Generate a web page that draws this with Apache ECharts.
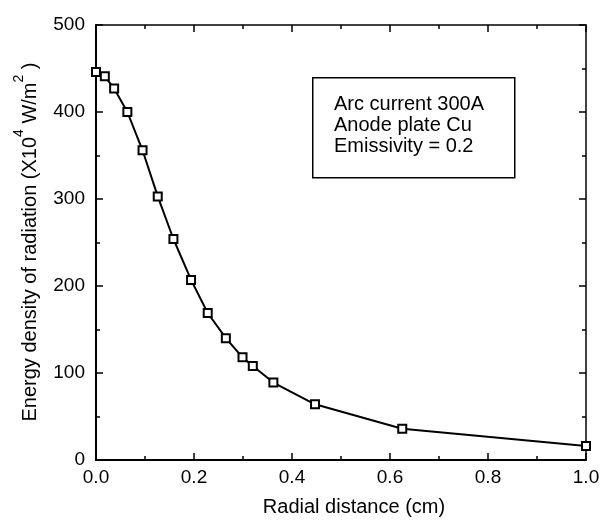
<!DOCTYPE html>
<html>
<head>
<meta charset="utf-8">
<script src="https://cdn.jsdelivr.net/npm/echarts@6/dist/echarts.min.js"></script>
<style>html,body{margin:0;padding:0;background:#fff}#c{width:609px;height:522px}</style>
</head>
<body>
<div id="c"></div>
<script>
var radialDistance = [0.0, 0.018, 0.037, 0.064, 0.095, 0.126, 0.158, 0.194, 0.228, 0.265, 0.299, 0.320, 0.362, 0.447, 0.625, 1.0];
var energyDensity = [446, 441, 427, 400, 356, 303, 254, 207, 169, 140, 118, 108, 89, 64, 36, 16];
var xTicks = [0.0, 0.2, 0.4, 0.6, 0.8, 1.0];
var yTicks = [0, 100, 200, 300, 400, 500];
var boxLines = ['Arc current 300A', 'Anode plate Cu', 'Emissivity = 0.2'];
var xName = 'Radial distance (cm)';
// y axis title pieces: [text, isSuperscript]
var yNameParts = [['Energy density of radiation (X10', false], ['4', true], [' W/m', false], ['2', true], [' )', false]];

var FONT = '"Liberation Sans", Arial, Helvetica, sans-serif';
var chart = echarts.init(document.getElementById('c'), null, {renderer: 'canvas'});

function axisBase(show) {
  return {
    axisLine: {show: true, onZero: false, lineStyle: {color: '#000', width: 2}},
    axisTick: {show: true, inside: true, length: 7, lineStyle: {color: '#000', width: 1.5}},
    minorTick: {show: true, splitNumber: 2, length: 4, lineStyle: {color: '#000', width: 1.5}},
    splitLine: {show: false},
    axisLabel: {show: show}
  };
}

// build the rotated y-axis title with real superscripts
var mctx = document.createElement('canvas').getContext('2d');
var MAIN = 20, SUP = 14;
var pieces = yNameParts.map(function (p) {
  var size = p[1] ? SUP : MAIN;
  mctx.font = size + 'px ' + FONT;
  return {text: p[0], sup: p[1], size: size, w: mctx.measureText(p[0]).width};
});
var totalW = pieces.reduce(function (s, p) { return s + p.w; }, 0);
var cur = -totalW / 2;
var yNameChildren = pieces.map(function (p) {
  var el = {
    type: 'text', x: cur, y: p.sup ? -11 : 0,
    style: {text: p.text, font: p.size + 'px ' + FONT, fill: '#000',
      textAlign: 'left', align: 'left', textVerticalAlign: 'middle', verticalAlign: 'middle'}
  };
  cur += p.w;
  return el;
});

var option = {
  backgroundColor: '#fff',
  animation: false,
  grid: {left: 96, right: 23, top: 25, bottom: 62, containLabel: false},
  xAxis: [
    Object.assign(axisBase(true), {
      type: 'value', position: 'bottom', min: xTicks[0], max: xTicks[xTicks.length - 1], interval: 0.2,
      name: xName, nameLocation: 'middle', nameGap: 37,
      nameTextStyle: {fontFamily: FONT, fontSize: 20, color: '#000', padding: [0, 0, 0, 26]},
      axisLabel: {show: true, margin: 8, fontFamily: FONT, fontSize: 19, color: '#000',
        formatter: function (v) { return v.toFixed(1); }}
    }),
    Object.assign(axisBase(false), {
      type: 'value', position: 'top', min: xTicks[0], max: xTicks[xTicks.length - 1], interval: 0.2,
      axisLine: {show: true, onZero: false, lineStyle: {color: '#000', width: 1.5}}
    })
  ],
  yAxis: [
    Object.assign(axisBase(true), {
      type: 'value', position: 'left', min: yTicks[0], max: yTicks[yTicks.length - 1], interval: 100,
      axisLabel: {show: true, margin: 11, fontFamily: FONT, fontSize: 19, color: '#000'}
    }),
    Object.assign(axisBase(false), {
      type: 'value', position: 'right', min: yTicks[0], max: yTicks[yTicks.length - 1], interval: 100,
      axisLine: {show: true, onZero: false, lineStyle: {color: '#000', width: 1.5}}
    })
  ],
  series: [{
    type: 'line',
    xAxisIndex: 0, yAxisIndex: 0,
    data: radialDistance.map(function (x, i) { return [x, energyDensity[i]]; }),
    lineStyle: {color: '#000', width: 2},
    symbol: 'rect', symbolSize: 8, showAllSymbol: true,
    itemStyle: {color: '#fff', borderColor: '#000', borderWidth: 2},
    z: 5
  }],
  graphic: [
    {type: 'group', x: 30, y: 242, rotation: Math.PI / 2, children: yNameChildren},
    {type: 'rect', left: 312, top: 77, shape: {width: 202, height: 100},
      style: {fill: '#fff', stroke: '#000', lineWidth: 1.5}, z: 10},
    {type: 'text', left: 334, top: 94,
      style: {text: boxLines.join('\n'), font: '20px ' + FONT, fill: '#000', lineHeight: 21}, z: 11}
  ]
};
chart.setOption(option);
</script>
</body>
</html>
